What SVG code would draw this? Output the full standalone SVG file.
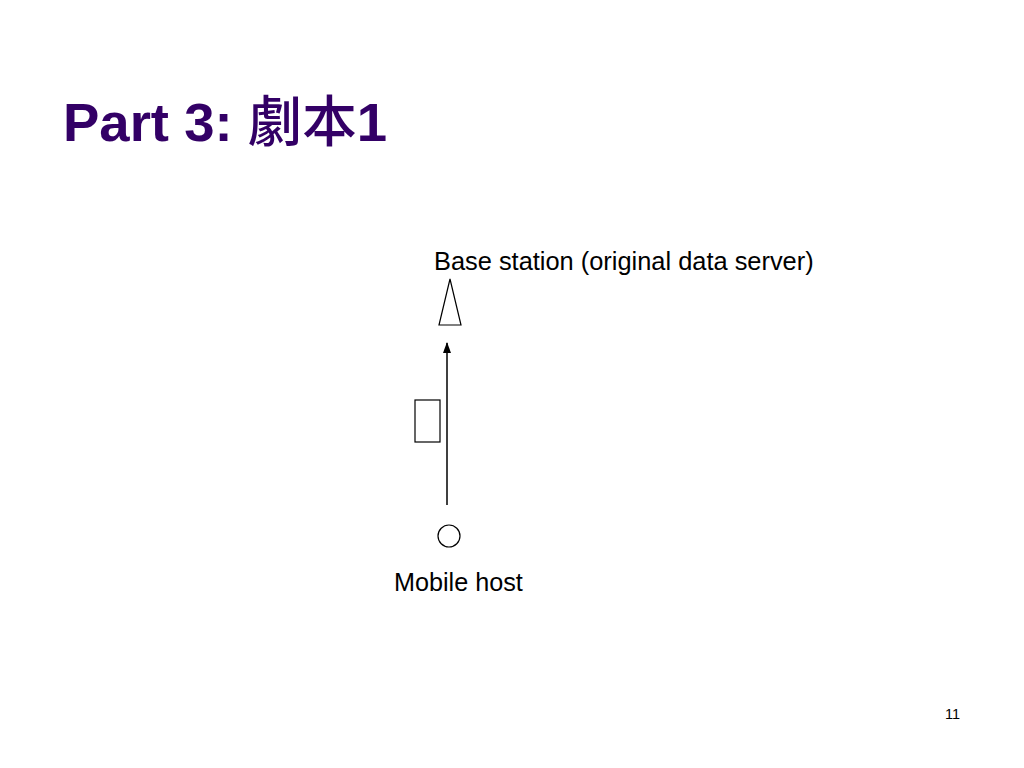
<svg xmlns="http://www.w3.org/2000/svg" width="1024" height="768" viewBox="0 0 1024 768">
<style>
.t{font-family:"Liberation Sans",Arial,"Noto Sans CJK TC",sans-serif;fill:#000}
.title{font-family:"Liberation Sans",Arial,"Noto Sans CJK TC",sans-serif;font-weight:bold;fill:#330066;font-size:54.5px}
.cjk{font-weight:500}
.s{fill:#fff;stroke:#000;stroke-width:1.2}
</style>
<defs>
<marker id="ah" markerWidth="12" markerHeight="12" refX="10" refY="5" orient="auto" markerUnits="userSpaceOnUse">
<path d="M0,1 L11,5 L0,9 Z" fill="#000"/>
</marker>
</defs>
<rect width="1024" height="768" fill="#fff"/>
<text class="title" x="63" y="141">Part 3: <tspan class="cjk">劇本</tspan>1</text>
<g id="base-station">
<polygon class="s" points="450,279 439,325 461,325"/>
<text class="t" x="434" y="270" font-size="25.4">Base station (original data server)</text>
</g>
<g id="packet">
<rect class="s" x="415" y="400" width="25" height="42"/>
</g>
<g id="mobile-host">
<circle class="s" cx="449" cy="536" r="11"/>
<text class="t" x="394" y="591" font-size="25.2">Mobile host</text>
</g>
<g id="connectors">
<line x1="447" y1="505" x2="447" y2="343" stroke="#000" stroke-width="1.5" marker-end="url(#ah)"/>
</g>
<text class="t" x="945" y="719" font-size="14.5" fill="#222">11</text>
</svg>
